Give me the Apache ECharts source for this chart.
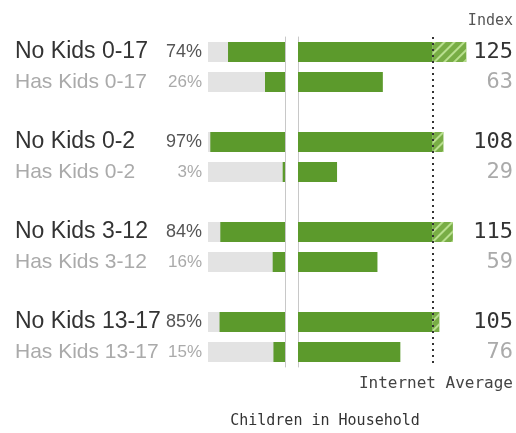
<!DOCTYPE html>
<html>
<head>
<meta charset="utf-8">
<script src="https://cdn.jsdelivr.net/npm/echarts@6/dist/echarts.min.js"></script>
<style>
  html, body { margin: 0; padding: 0; background: #fff; }
</style>
</head>
<body>
<div id="myechart" style="width:516px;height:433px"></div>
<script>
// age groups and values
var groups = ["0-17", "0-2", "3-12", "13-17"];
var noKidsPct = [74, 97, 84, 85];
var hasKidsPct = [26, 3, 16, 15];
var noKidsIndex = [125, 108, 115, 105];
var hasKidsIndex = [63, 29, 59, 76];

var GREEN = "#5c9a2c";

// build rows: No Kids, Has Kids, then a blank spacer between groups
var rows = [], rowPct = [], rowIdx = [], rowKind = [];
groups.forEach(function (g, i) {
    rows.push("No Kids " + g); rowPct.push(noKidsPct[i]); rowIdx.push(noKidsIndex[i]); rowKind.push(1);
    rows.push("Has Kids " + g); rowPct.push(hasKidsPct[i]); rowIdx.push(hasKidsIndex[i]); rowKind.push(2);
    if (i < groups.length - 1) {
        rows.push("sp" + i); rowPct.push("-"); rowIdx.push("-"); rowKind.push(0);
    }
});

var trackData = rowPct.map(function (v) { return v === "-" ? "-" : 100; });
var baseData = rowIdx.map(function (v) { return v === "-" ? "-" : Math.min(v, 100); });
var overData = rowIdx.map(function (v) { return v === "-" || v <= 100 ? "-" : v - 100; });

let myChart = echarts.init(document.getElementById("myechart"));

let option = {
    animation: false,
    grid: [
        { left: 208, width: 77, top: 37, height: 330 },
        { left: 298, width: 202.5, top: 37, height: 330 }
    ],
    xAxis: [
        { gridIndex: 0, type: "value", min: 0, max: 100, inverse: true, show: false },
        { gridIndex: 1, type: "value", min: 0, max: 150, show: false }
    ],
    yAxis: [
        {
            gridIndex: 0, type: "category", data: rows, inverse: true, position: "left",
            axisLine: { show: false }, axisTick: { show: false },
            axisLabel: {
                align: "left",
                margin: 193,
                formatter: function (value, idx) {
                    var k = rowKind[idx];
                    if (!k) return "";
                    return "{n" + k + "|" + value + "}{p" + k + "|" + rowPct[idx] + "%}";
                },
                rich: {
                    n1: { fontFamily: "Liberation Sans", fontSize: 23, color: "#333", width: 150 },
                    p1: { fontFamily: "Liberation Sans", fontSize: 18, color: "#555", width: 37, align: "right" },
                    n2: { fontFamily: "Liberation Sans", fontSize: 21, color: "#aaa", width: 150 },
                    p2: { fontFamily: "Liberation Sans", fontSize: 17, color: "#aaa", width: 37, align: "right" }
                }
            }
        },
        {
            gridIndex: 0, type: "category", data: rows, inverse: true, position: "right",
            axisLine: { show: true, lineStyle: { color: "#c8c8c8", width: 1 } },
            axisTick: { show: false }, axisLabel: { show: false }
        },
        {
            gridIndex: 1, type: "category", data: rows, inverse: true, position: "left",
            axisLine: { show: true, lineStyle: { color: "#c8c8c8", width: 1 } },
            axisTick: { show: false }, axisLabel: { show: false }
        },
        {
            gridIndex: 1, type: "category", data: rows, inverse: true, position: "right",
            axisLine: { show: false }, axisTick: { show: false },
            axisLabel: {
                align: "right",
                margin: 13,
                formatter: function (value, idx) {
                    var k = rowKind[idx];
                    if (!k) return "";
                    return "{i" + k + "|" + rowIdx[idx] + "}";
                },
                rich: {
                    i1: { fontFamily: "DejaVu Sans Mono", fontSize: 22, color: "#333" },
                    i2: { fontFamily: "DejaVu Sans Mono", fontSize: 22, color: "#aaa" }
                }
            }
        }
    ],
    series: [
        {
            type: "bar", xAxisIndex: 0, yAxisIndex: 0, data: trackData,
            barWidth: 20, barGap: "-100%", silent: true,
            itemStyle: { color: "#e3e3e3" }
        },
        {
            type: "bar", xAxisIndex: 0, yAxisIndex: 0, data: rowPct,
            barWidth: 20, barGap: "-100%",
            itemStyle: { color: GREEN }
        },
        {
            type: "bar", xAxisIndex: 1, yAxisIndex: 2, data: baseData, stack: "idx",
            barWidth: 20,
            itemStyle: { color: GREEN },
            markLine: {
                silent: true, symbol: "none", label: { show: false },
                lineStyle: { color: "#333", type: [2, 4], width: 2 },
                data: [{ xAxis: 100 }]
            }
        },
        {
            type: "bar", xAxisIndex: 1, yAxisIndex: 2, data: overData, stack: "idx",
            barWidth: 20,
            itemStyle: {
                color: "#78ad45",
                decal: {
                    symbol: "rect",
                    dashArrayX: [1, 0],
                    dashArrayY: [2, 5],
                    rotation: -Math.PI / 4,
                    color: "rgba(200,235,160,0.8)"
                }
            }
        }
    ],
    graphic: [
        {
            type: "text", right: 3, top: 14,
            style: { text: "Index", font: "15px 'DejaVu Sans Mono'", fill: "#555" }
        },
        {
            type: "text", right: 3, top: 376,
            style: { text: "Internet Average", font: "16px 'DejaVu Sans Mono'", fill: "#444" }
        },
        {
            type: "text", x: 325, y: 414,
            style: { text: "Children in Household", font: "15px 'DejaVu Sans Mono'", fill: "#333", align: "center" }
        }
    ]
};

myChart.setOption(option);
</script>
</body>
</html>
